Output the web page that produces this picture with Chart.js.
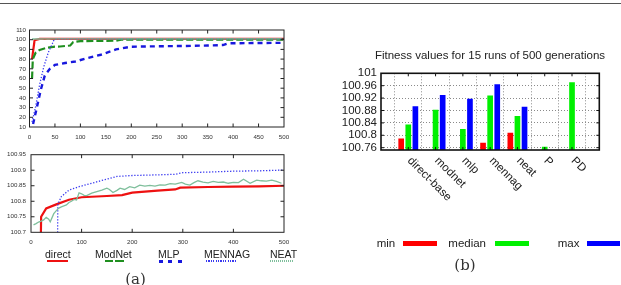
<!DOCTYPE html>
<html><head><meta charset="utf-8">
<script src="https://cdn.jsdelivr.net/npm/chart.js@4.4.0/dist/chart.umd.min.js"></script>
<style>
html,body{margin:0;padding:0;background:#fff;width:621px;height:285px;overflow:hidden;position:relative;font-family:"Liberation Sans",Arial,sans-serif;color:#222;}
.a{position:absolute;white-space:nowrap;}
canvas{position:absolute;}
.lg{font-size:10.5px;line-height:12px;}
.lgb{font-size:11.5px;line-height:14px;}
.cap{font-family:"DejaVu Serif","Liberation Serif",serif;font-size:15px;line-height:18px;color:#333;text-align:center;width:40px;}
</style></head><body>
<div class="a" style="left:0;top:3px;width:621px;height:1px;background:#555"></div>

<canvas id="c1" width="300" height="125" style="left:0;top:20px"></canvas>
<canvas id="c2" width="300" height="105" style="left:0;top:145px"></canvas>
<canvas id="c3" width="291" height="150" style="left:330px;top:60px"></canvas>

<!-- legend (a) -->
<div class="a lg" style="left:45px;top:247.5px">direct</div>
<div class="a lg" style="left:95px;top:247.5px">ModNet</div>
<div class="a lg" style="left:158px;top:247.5px">MLP</div>
<div class="a lg" style="left:204px;top:247.5px">MENNAG</div>
<div class="a lg" style="left:270px;top:247.5px">NEAT</div>
<div class="a" style="left:47px;top:259.5px;width:21px;height:2.5px;background:#ee1111"></div>
<div class="a" style="left:104.5px;top:259.5px;width:19px;height:2.5px;background:repeating-linear-gradient(90deg,#1f8f1f 0 8.5px,transparent 8.5px 10.5px)"></div>
<div class="a" style="left:158.5px;top:259.5px;width:23px;height:3px;background:repeating-linear-gradient(90deg,#1818dd 0 4px,transparent 4px 9.3px)"></div>
<div class="a" style="left:206px;top:260px;width:30px;height:1.5px;background:repeating-linear-gradient(90deg,#3a3af0 0 1.2px,transparent 1.2px 2.4px)"></div>
<div class="a" style="left:269.5px;top:260px;width:23px;height:1.5px;background:repeating-linear-gradient(90deg,#7fbf9c 0 1.3px,transparent 1.3px 2px)"></div>
<div class="a cap" style="left:115.5px;top:269.5px">(a)</div>

<!-- title and legend (b) -->
<div class="a lgb" style="left:340px;top:48px;width:300px;text-align:center">Fitness values for 15 runs of 500 generations</div>
<div class="a lgb" style="left:376.7px;top:236px">min</div>
<div class="a lgb" style="left:448.3px;top:236px">median</div>
<div class="a lgb" style="left:557.7px;top:236px">max</div>
<div class="a" style="left:402.7px;top:240.7px;width:34.6px;height:5px;background:#ff0000"></div>
<div class="a" style="left:495px;top:240.7px;width:34.3px;height:5px;background:#00f000"></div>
<div class="a" style="left:587.3px;top:240.7px;width:32.7px;height:5px;background:#0000ff"></div>
<div class="a cap" style="left:445px;top:256px">(b)</div>

<script>
// ---------------- data (a) ----------------
const directX = [5,10,20,30,50,75,100,150,180,200,250,285,295,350,400,450,500];
const directY = [80,99.5,100.75,100.777,100.79,100.805,100.813,100.817,100.82,100.828,100.834,100.838,100.844,100.846,100.847,100.848,100.85];

const modnetX = [5,6.5,12,20,34,50,60,80,86,100,170,180,500];
const modnetY = [60,80,86.5,89.5,91.7,92.8,93,94,97.5,98.5,99,100,100];

const mlpX = [7,14,22,30,40,50,70,90,110,140,170,200,250,300,350,380,390,450,500];
const mlpY = [13,29,48,63,70,74,76,77.5,80.5,84.5,90,92.8,93.2,93.5,94,94.5,96.3,96.6,96.8];

const mennagX = [5,12,20,28,37,45,48,53,60,75,95,120,140,170,200,250,285,300,350,400,450,490,500];
const mennagY = [15,31,54,72,87,96,99.7,100.79,100.815,100.836,100.847,100.858,100.867,100.88,100.883,100.885,100.887,100.892,100.894,100.897,100.898,100.9,100.9];

const neatX = [5,10,15,20,25,30,35,38,45,50,55,60,65,70,75,80,85,90,95,100,105,110,120,130,140,150,155,162,170,176,185,195,205,215,225,235,245,255,265,275,285,298,305,314,322,330,340,350,360,370,380,390,400,410,420,433,446,455,465,476,485,495];
const neatY = [100.724,100.728,100.733,100.736,100.74,100.748,100.742,100.734,100.76,100.77,100.778,100.782,100.785,100.788,100.796,100.8,100.806,100.804,100.827,100.824,100.819,100.818,100.826,100.831,100.836,100.842,100.838,100.828,100.835,100.842,100.838,100.847,100.843,100.852,100.849,100.851,100.849,100.853,100.852,100.857,100.855,100.861,100.855,100.852,100.86,100.866,100.862,100.859,100.864,100.861,100.862,100.858,100.861,100.86,100.871,100.858,100.868,100.866,100.865,100.868,100.864,100.858];

const topTicksX = [0,50,100,150,200,250,300,350,400,450,500];
const topTicksY = [10,20,30,40,50,60,70,80,90,100,110];
const botTicksX = [0,100,200,300,400,500];
const botTicksY = [100.7,100.75,100.8,100.85,100.9,100.95];
const botTickLabelsY = ['100.7','100.75','100.8','100.85','100.9','100.95'];

// ---------------- data (b) ----------------
const barCategories = ['direct-base','modnet','mlp','mennag','neat','P','PD'];
const minValues    = [100.790, null,    null,    100.776, 100.808, null,    null];
const medianValues = [100.835, 100.882, 100.820, 100.928, 100.862, 100.763, 100.971];
const maxValues    = [100.894, 100.930, 100.918, 100.965, 100.892, null,    null];
const barTicksY = [100.76,100.8,100.84,100.88,100.92,100.96,101];
const barTickLabelsY = ['100.76','100.8','100.84','100.88','100.92','100.96','101'];

const FONT = '"Liberation Sans", Arial, sans-serif';
const pts = (xs, ys) => xs.map((x, i) => ({x, y: ys[i]}));

const boxPlugin = {
  id: 'box',
  afterDraw(chart, args, o) {
    const {ctx, chartArea: a, scales} = chart;
    ctx.save();
    ctx.strokeStyle = o.color; ctx.lineWidth = o.tickWidth || 1;
    const L = o.tick;
    ctx.beginPath();
    scales.x.ticks.forEach(t => {
      const p = scales.x.getPixelForValue(t.value);
      if (p <= a.left + 1 || p >= a.right - 1) return;
      ctx.moveTo(p, a.bottom); ctx.lineTo(p, a.bottom - L);
      ctx.moveTo(p, a.top); ctx.lineTo(p, a.top + L);
    });
    scales.y.ticks.forEach(t => {
      const p = scales.y.getPixelForValue(t.value);
      if (p <= a.top + 1 || p >= a.bottom - 1) return;
      ctx.moveTo(a.left, p); ctx.lineTo(a.left + L, p);
      ctx.moveTo(a.right, p); ctx.lineTo(a.right - L, p);
    });
    ctx.stroke();
    ctx.lineWidth = o.width;
    ctx.strokeRect(a.left, a.top, a.width, a.height);
    ctx.restore();
  }
};

function lineDatasets() {
  return [
    {label:'direct', data: pts(directX, directY), borderColor:'#ee1111', borderWidth:2.2, order:5},
    {label:'ModNet', data: pts(modnetX, modnetY), borderColor:'#1f8f1f', borderWidth:2.2, borderDash:[7,3], order:4},
    {label:'MLP', data: pts(mlpX, mlpY), borderColor:'#1818dd', borderWidth:2.4, borderDash:[5,4], order:3},
    {label:'MENNAG', data: pts(mennagX, mennagY), borderColor:'#3a3af0', borderWidth:1.3, borderDash:[1.3,1.7], order:2},
    {label:'NEAT', data: pts(neatX, neatY), borderColor:'#7fbf9c', borderWidth:1.3, order:1}
  ];
}

function lineOptions(cfg) {
  return {
    responsive:false, animation:false, devicePixelRatio:1,
    layout:{padding:cfg.pad},
    elements:{point:{radius:0}, line:{tension:0}},
    datasets:{line:{clip:0}},
    plugins:{legend:{display:false}, tooltip:{enabled:false}, box:{color:'#222', width:1, tick:3.5}},
    scales:{
      x:{type:'linear', min:0, max:500,
         afterBuildTicks:s => { s.ticks = cfg.tx.map(v => ({value:v})); },
         afterFit:s => { s.height = cfg.xh; },
         grid:{display:false, drawTicks:false}, border:{display:false},
         ticks:{font:{family:FONT, size:6.2}, color:'#333', padding:cfg.xpad, maxRotation:0, autoSkip:false,
                callback:(v,i) => String(cfg.tx[i])}},
      y:{type:'linear', min:cfg.ymin, max:cfg.ymax,
         afterBuildTicks:s => { s.ticks = cfg.ty.map(v => ({value:v})); },
         afterFit:s => { s.width = cfg.yw; },
         grid:{display:false, drawTicks:false}, border:{display:false},
         ticks:{font:{family:FONT, size:6.2}, color:'#333', padding:cfg.ypad, autoSkip:false,
                callback:(v,i) => cfg.tyl[i]}}
    }
  };
}

new Chart(document.getElementById('c1'), {
  type:'line',
  data:{datasets: lineDatasets()},
  options: lineOptions({pad:{left:0, top:10, right:16, bottom:0}, xh:18, yw:29.5, xpad:6.3, ypad:3.5,
    tx:topTicksX, ty:topTicksY, tyl:topTicksY.map(String), ymin:10, ymax:110}),
  plugins:[boxPlugin]
});

new Chart(document.getElementById('c2'), {
  type:'line',
  data:{datasets: lineDatasets()},
  options: lineOptions({pad:{left:0, top:9.7, right:16, bottom:0}, xh:17.7, yw:31, xpad:6, ypad:5,
    tx:botTicksX, ty:botTicksY, tyl:botTickLabelsY, ymin:100.7, ymax:100.95}),
  plugins:[boxPlugin]
});

const rotLabels = {
  id:'rotLabels',
  afterDraw(chart) {
    const {ctx, chartArea:a, scales} = chart;
    ctx.save();
    ctx.font = '11.5px ' + FONT; ctx.fillStyle = '#222';
    ctx.textAlign = 'left'; ctx.textBaseline = 'middle';
    barCategories.forEach((lab, i) => {
      const x = scales.x.getPixelForValue(i);
      ctx.save(); ctx.translate(x + 1, a.bottom + 9); ctx.rotate(Math.PI / 4);
      ctx.fillText(lab, 0, 0); ctx.restore();
    });
    ctx.restore();
  }
};

const barData = vals => vals.map((v, i) => ({x:i, y:v}));
new Chart(document.getElementById('c3'), {
  type:'bar',
  data:{datasets:[
    {label:'min', data:barData(minValues), backgroundColor:'#ff0000'},
    {label:'median', data:barData(medianValues), backgroundColor:'#00f000'},
    {label:'max', data:barData(maxValues), backgroundColor:'#0000ff'}
  ]},
  options:{
    responsive:false, animation:false, devicePixelRatio:1,
    layout:{padding:{left:0, top:13.3, right:21.7, bottom:60}},
    datasets:{bar:{categoryPercentage:0.78, barPercentage:0.8, borderWidth:0}},
    plugins:{legend:{display:false}, tooltip:{enabled:false}, box:{color:'#111', width:1.6, tick:3}},
    scales:{
      x:{type:'linear', min:-1, max:7, offset:false,
         afterBuildTicks:s => { s.ticks = barCategories.map((c, i) => ({value:i})); },
         afterFit:s => { s.height = 0; },
         grid:{color:'#8a8a8a', lineWidth:1, drawTicks:false}, border:{display:false, dash:[1,2]},
         ticks:{display:false}},
      y:{type:'linear', min:100.7525, max:101,
         afterBuildTicks:s => { s.ticks = barTicksY.map(v => ({value:v})); },
         afterFit:s => { s.width = 51; },
         grid:{color:'#8a8a8a', lineWidth:1, drawTicks:false}, border:{display:false, dash:[1,2]},
         ticks:{font:{family:FONT, size:11.5}, color:'#222', padding:4, autoSkip:false,
                callback:(v,i) => barTickLabelsY[i]}}
    }
  },
  plugins:[boxPlugin, rotLabels]
});
</script>
</body></html>
